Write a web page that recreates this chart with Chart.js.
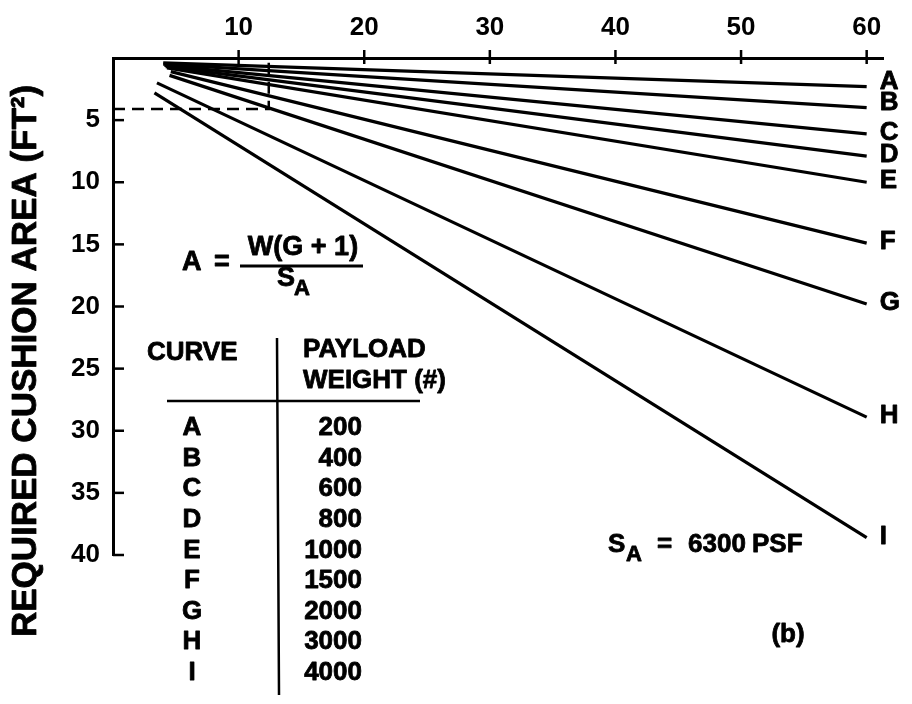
<!DOCTYPE html>
<html>
<head>
<meta charset="utf-8">
<script src="https://cdn.jsdelivr.net/npm/chart.js@4"></script>
<style>
  body { margin: 0; background: #fff; }
  canvas { display: block; }
</style>
</head>
<body>
<canvas id="cushion" width="912" height="704"></canvas>
<script>
// curves and their payload weights (lbs)
const curves = ['A', 'B', 'C', 'D', 'E', 'F', 'G', 'H', 'I'];
const payload = [200, 400, 600, 800, 1000, 1500, 2000, 3000, 4000];

// each curve is a straight line (G, area ft2)
const startX = [4.0, 4.0, 4.1, 4.2, 4.3, 4.6, 4.5, 3.5, 3.3];
const startY = [0.4, 0.5, 0.6, 0.7, 0.8, 1.1, 1.4, 2.0, 2.8];
const endX = [60, 60, 60, 60, 60, 60, 60, 60, 60];
const endY = [2.3, 4.0, 6.1, 7.9, 10.0, 14.9, 19.8, 28.9, 38.6];

// dashed reading example
const dashX = [0, 12.4, 12.4];
const dashY = [4.1, 4.1, 0];

const xTicks = [10, 20, 30, 40, 50, 60];
const yTicks = [5, 10, 15, 20, 25, 30, 35, 40];

const FONT = '"Liberation Sans", Arial, sans-serif';

const datasets = curves.map((c, i) => ({
    label: c,
    data: [{x: startX[i], y: startY[i]}, {x: endX[i], y: endY[i]}],
    borderColor: '#000',
    borderWidth: 3.2,
    pointRadius: 0,
    showLine: true,
    clip: false
}));
datasets.push({
    label: 'dash',
    data: dashX.map((x, i) => ({x: x, y: dashY[i]})),
    borderColor: '#000',
    borderWidth: 2.5,
    borderDash: [12, 7],
    pointRadius: 0,
    showLine: true
});

// heavier text, the scan is very bold
function boldText(ctx, str, x, y) {
    ctx.fillText(str, x, y);
    ctx.strokeText(str, x, y);
}

const annotations = {
    id: 'annotations',
    afterDraw(chart) {
        const ctx = chart.ctx;
        const xs = chart.scales.x, ys = chart.scales.y;
        ctx.save();
        ctx.strokeStyle = '#000';
        ctx.fillStyle = '#000';
        ctx.lineWidth = 2.5;

        // tick marks inside the axes
        xTicks.forEach(v => {
            const px = xs.getPixelForValue(v);
            ctx.beginPath();
            ctx.moveTo(px, xs.bottom - 8);
            ctx.lineTo(px, xs.bottom + 6);
            ctx.stroke();
        });
        yTicks.forEach(v => {
            const py = ys.getPixelForValue(v);
            ctx.beginPath();
            ctx.moveTo(ys.right, py);
            ctx.lineTo(ys.right + 11, py);
            ctx.stroke();
        });

        ctx.lineWidth = 0.8;
        ctx.lineJoin = 'round';

        // curve letters at the line ends
        ctx.font = 'bold 26px ' + FONT;
        ctx.textBaseline = 'middle';
        ctx.textAlign = 'left';
        curves.forEach((c, i) => {
            const pt = chart.getDatasetMeta(i).data[1];
            boldText(ctx, c, pt.x + 13, pt.y - (i < 2 ? 5 : 1));
        });

        // y axis title
        ctx.save();
        ctx.translate(26, 361);
        ctx.rotate(-Math.PI / 2);
        ctx.textAlign = 'center';
        ctx.font = 'bold 35px ' + FONT;
        boldText(ctx, 'REQUIRED CUSHION AREA (FT²)', 0, 0);
        ctx.restore();

        // formula
        ctx.font = 'bold 27px ' + FONT;
        ctx.textAlign = 'left';
        boldText(ctx, 'A', 182, 263);
        boldText(ctx, '=', 214, 263);
        ctx.textAlign = 'center';
        boldText(ctx, 'W(G + 1)', 303, 248);
        ctx.beginPath();
        ctx.lineWidth = 3;
        ctx.moveTo(240, 266);
        ctx.lineTo(363, 266);
        ctx.stroke();
        ctx.lineWidth = 0.8;
        ctx.textAlign = 'left';
        boldText(ctx, 'S', 277, 279);
        ctx.font = 'bold 22px ' + FONT;
        boldText(ctx, 'A', 294, 289);

        // payload table
        ctx.font = 'bold 26px ' + FONT;
        boldText(ctx, 'CURVE', 147, 353);
        boldText(ctx, 'PAYLOAD', 303, 350);
        boldText(ctx, 'WEIGHT (#)', 303, 381);
        ctx.lineWidth = 2.5;
        ctx.beginPath();
        ctx.moveTo(167, 401);
        ctx.lineTo(420, 401);
        ctx.moveTo(277, 338);
        ctx.lineTo(279, 695);
        ctx.stroke();
        ctx.lineWidth = 0.8;
        curves.forEach((c, i) => {
            const y = 428 + i * 30.6;
            ctx.textAlign = 'center';
            boldText(ctx, c, 192, y);
            ctx.textAlign = 'right';
            boldText(ctx, String(payload[i]), 362, y);
        });

        // allowable stress note
        ctx.textAlign = 'left';
        boldText(ctx, 'S', 608, 545);
        ctx.font = 'bold 22px ' + FONT;
        boldText(ctx, 'A', 626, 555);
        ctx.font = 'bold 26px ' + FONT;
        boldText(ctx, '=', 657, 545);
        boldText(ctx, '6300', 688, 545);
        boldText(ctx, 'PSF', 752, 545);

        ctx.textAlign = 'center';
        boldText(ctx, '(b)', 788, 635);
        ctx.restore();
    }
};

new Chart(document.getElementById('cushion'), {
    type: 'scatter',
    data: { datasets: datasets },
    options: {
        responsive: false,
        animation: false,
        layout: { padding: { left: 0, top: 0, right: 29, bottom: 149 } },
        plugins: {
            legend: { display: false },
            tooltip: { enabled: false }
        },
        scales: {
            x: {
                type: 'linear',
                position: 'top',
                min: 0,
                max: 61.3,
                grid: { display: false, drawTicks: false },
                border: { display: true, color: '#000', width: 3 },
                ticks: {
                    color: '#000',
                    padding: 15,
                    font: { family: FONT, size: 26, weight: 'bold' }
                },
                afterBuildTicks: s => { s.ticks = xTicks.map(v => ({value: v})); },
                afterFit: s => { s.height = 58; }
            },
            y: {
                type: 'linear',
                reverse: true,
                min: 0,
                max: 40,
                grid: { display: false, drawTicks: false },
                border: { display: true, color: '#000', width: 3 },
                ticks: {
                    color: '#000',
                    padding: 13,
                    font: { family: FONT, size: 26, weight: 'bold' }
                },
                afterBuildTicks: s => { s.ticks = yTicks.map(v => ({value: v})); },
                afterFit: s => { s.width = 113; }
            }
        }
    },
    plugins: [annotations]
});
</script>
</body>
</html>
